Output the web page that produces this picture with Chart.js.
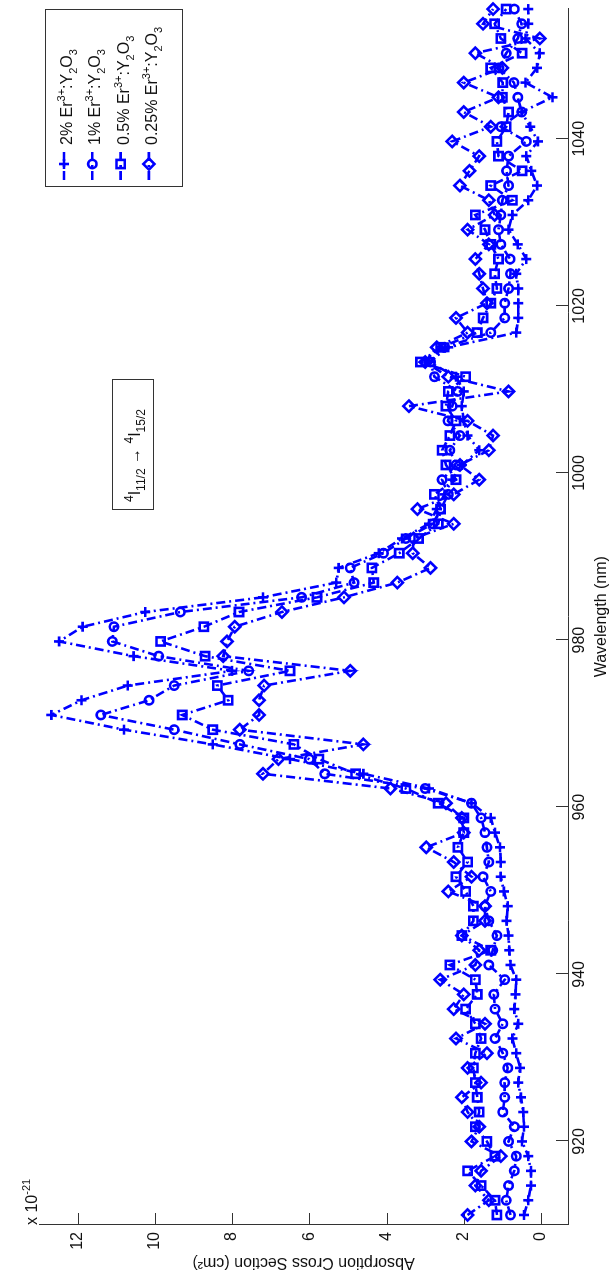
<!DOCTYPE html>
<html>
<head>
<meta charset="utf-8">
<title>Er:Y2O3 absorption cross section</title>
<script src="https://cdn.jsdelivr.net/npm/chart.js@4.4.0/dist/chart.umd.min.js"></script>
<style>
html, body { margin: 0; padding: 0; background: #fff; overflow: hidden; }
/* the figure is drawn landscape and turned a quarter turn to the left */
#wrap { position: absolute; left: 0; top: 0; width: 1281px; height: 613px;
        transform-origin: 0 0; transform: translate(0, 1281px) rotate(-90deg); }
</style>
</head>
<body>
<div id="wrap"><canvas id="chart" width="1281" height="613"></canvas></div>
<script>
var wavelength = [911.2, 912.96, 914.72, 916.48, 918.24, 920.0, 921.76, 923.52, 925.28, 927.04,
    928.8, 930.56, 932.32, 934.08, 935.84, 937.6, 939.36, 941.12, 942.88, 944.64,
    946.4, 948.16, 949.92, 951.68, 953.44, 955.2, 956.96, 958.72, 960.48, 962.24,
    964.0, 965.76, 967.52, 969.28, 971.04, 972.8, 974.56, 976.32, 978.08, 979.84,
    981.6, 983.36, 985.12, 986.88, 988.64, 990.4, 992.16, 993.92, 995.68, 997.44,
    999.2, 1000.96, 1002.72, 1004.48, 1006.24, 1008.0, 1009.76, 1011.52, 1013.28, 1015.04,
    1016.8, 1018.56, 1020.32, 1022.08, 1023.84, 1025.6, 1027.36, 1029.12, 1030.88, 1032.64,
    1034.4, 1036.16, 1037.92, 1039.68, 1041.44, 1043.2, 1044.96, 1046.72, 1048.48, 1050.24,
    1052.0, 1053.76, 1055.52];

// cross section in units of 1e-21 cm^2
var er2 = [0.44, 0.33, 0.26, 0.26, 0.33, 0.49, 0.44, 0.46, 0.52, 0.59, 0.54, 0.64, 0.74, 0.59, 0.69, 0.66, 0.64,
    0.79, 0.82, 0.84, 0.89, 0.86, 0.96, 1.04, 1.04, 1.06, 1.19, 1.3, 1.8,
    2.9, 4.6, 6.5, 8.5, 10.8, 12.68, 11.9, 10.7, 8.0, 10.55, 12.48, 11.87, 10.25, 7.2, 5.3, 5.24, 4.2, 3.6, 2.9, 2.7, 2.5,
    2.3, 2.05, 1.6, 1.9, 2.0, 2.05, 2.0, 2.2, 2.9, 2.4, 0.64, 0.59, 0.59, 0.59, 0.64, 0.38, 0.6,
    0.84, 0.74, 0.33, 0.1, 0.25, 0.38, 0.08, 0.28, 0.5, -0.3, 0.4, 0.1, 0.03, 0.4, 0.33, 0.33];
var er1 = [0.79, 0.9, 0.84, 0.69, 0.64, 0.84, 0.69, 0.99, 0.94, 0.94, 0.86, 0.99, 1.19, 0.99, 1.19, 1.22, 0.94,
    1.35, 1.25, 1.14, 1.35, 1.45, 1.3, 1.5, 1.35, 1.4, 1.45, 1.55, 1.8,
    3.0, 5.6, 6.0, 7.8, 9.5, 11.4, 10.15, 9.5, 7.57, 9.9, 11.1, 11.06, 9.34, 6.2, 4.84, 4.94, 4.08, 3.5, 2.8, 2.6, 2.4,
    2.56, 2.2, 2.36, 2.1, 2.41, 2.3, 2.16, 2.76, 2.86, 2.5, 1.3, 0.94, 0.94, 0.84, 0.79, 0.8, 1.04,
    1.1, 1.04, 1.0, 0.84, 0.89, 0.84, 0.38, 1.04, 0.5, 0.6, 0.7, 1.09, 0.9, 0.6, 0.5, 0.69];
var er05 = [1.14, 1.19, 1.55, 1.9, 1.19, 1.4, 1.7, 1.6, 1.65, 1.7, 1.75, 1.7, 1.55, 1.7, 1.95, 1.65, 1.7,
    2.36, 1.3, 2.05, 1.75, 1.75, 1.95, 2.2, 1.9, 2.15, 2.0, 2.0, 2.66,
    3.5, 4.8, 5.75, 6.4, 8.5, 9.29, 8.1, 8.38, 6.5, 8.7, 9.85, 8.73, 7.82, 5.8, 4.33, 4.38, 3.67, 3.17, 2.66, 2.6, 2.76,
    2.2, 2.46, 2.56, 2.36, 2.2, 2.46, 2.4, 1.95, 3.12, 2.6, 1.65, 1.5, 1.3, 1.14, 1.2, 1.1, 1.3,
    1.45, 1.7, 0.74, 1.3, 0.49, 1.1, 1.14, 0.9, 0.84, 1.0, 0.99, 1.3, 0.49, 1.04, 1.2, 0.9];
var er025 = [1.9, 1.35, 1.7, 1.55, 1.04, 1.8, 1.6, 1.9, 2.05, 1.55, 1.9, 1.4, 2.2, 1.45, 2.26, 2.0, 2.61,
    1.7, 1.6, 2.05, 1.45, 1.45, 2.4, 1.8, 2.26, 2.97, 2.0, 2.05, 2.46,
    3.9, 7.2, 6.8, 4.6, 7.8, 7.3, 7.3, 7.17, 4.94, 8.23, 8.13, 7.93, 6.71, 5.1, 3.72, 2.86, 3.32, 3.3, 2.26, 3.2, 2.26,
    1.6, 2.1, 1.35, 1.24, 1.9, 3.42, 0.84, 2.4, 3.0, 2.7, 1.9, 2.2, 1.4, 1.5, 1.6, 1.7, 1.35,
    1.9, 1.2, 1.35, 2.1, 1.85, 1.6, 2.3, 1.3, 2.0, 1.1, 2.0, 1.0, 1.7, 0.03, 1.5, 1.24];

var seriesNames = ['2%', '1%', '0.5%', '0.25%'];
var seriesMarkers = ['cross', 'circle', 'rect', 'rectRot'];
var xTicks = [920, 940, 960, 980, 1000, 1020, 1040];
var yTicks = [0, 2, 4, 6, 8, 10, 12];

var BLUE = 'rgb(0,0,255)';
var AXIS = '#333';
var TEXT = '#111';
var DASH = [9, 4, 2, 4];
var LW = 2.6;
var FONT = "'Liberation Sans', Arial, sans-serif";
var markerSize = { cross: 5, circle: 4.2, rect: 5.8, rectRot: 5.6 };

function toPoints(arr) {
    return arr.map(function (v, i) { return { x: wavelength[i], y: v }; });
}

var datasets = [er2, er1, er05, er025].map(function (arr, i) {
    var m = seriesMarkers[i];
    return {
        label: seriesNames[i],
        data: toPoints(arr),
        borderColor: BLUE,
        borderWidth: LW,
        borderDash: DASH,
        pointStyle: m,
        pointRadius: markerSize[m],
        pointBorderWidth: LW,
        pointBorderColor: BLUE,
        pointBackgroundColor: 'rgba(0,0,0,0)',
        fill: false,
        tension: 0,
        clip: false,
        order: 4 - i
    };
});

function drawMarker(ctx, style, x, y, r) {
    ctx.beginPath();
    if (style === 'cross') {
        ctx.moveTo(x - r, y); ctx.lineTo(x + r, y);
        ctx.moveTo(x, y - r); ctx.lineTo(x, y + r);
    } else if (style === 'circle') {
        ctx.arc(x, y, r, 0, Math.PI * 2);
    } else if (style === 'rect') {
        var s = r * Math.SQRT1_2;
        ctx.rect(x - s, y - s, 2 * s, 2 * s);
    } else {
        ctx.moveTo(x - r, y); ctx.lineTo(x, y - r); ctx.lineTo(x + r, y); ctx.lineTo(x, y + r);
        ctx.closePath();
    }
    ctx.stroke();
}

// text with tex-like super/subscripts
function drawRich(ctx, parts, x, y, big, small) {
    parts.forEach(function (p) {
        ctx.font = ((p.sup || p.sub) ? small : big) + 'px ' + FONT;
        var dy = p.sup ? -7 : (p.sub ? 5 : 0);
        ctx.fillText(p.t, x, y + dy);
        x += ctx.measureText(p.t).width;
    });
    return x;
}

var decor = {
    id: 'decor',
    beforeDatasetsDraw: function (chart) {
        var ctx = chart.ctx, xs = chart.scales.x, ys = chart.scales.y, a = chart.chartArea;
        ctx.save();
        ctx.strokeStyle = AXIS;
        ctx.lineWidth = 1;
        ctx.beginPath();
        xTicks.forEach(function (t) {
            var px = Math.round(xs.getPixelForValue(t)) + 0.5;
            ctx.moveTo(px, a.bottom); ctx.lineTo(px, a.bottom - 12);
        });
        yTicks.forEach(function (t) {
            var py = Math.round(ys.getPixelForValue(t)) + 0.5;
            ctx.moveTo(a.left, py); ctx.lineTo(a.left + 12, py);
        });
        ctx.stroke();
        ctx.restore();
    },
    afterDraw: function (chart) {
        var ctx = chart.ctx, a = chart.chartArea;
        ctx.save();
        ctx.fillStyle = TEXT;
        ctx.textBaseline = 'alphabetic';
        ctx.textAlign = 'left';

        // exponent label
        drawRich(ctx, [{ t: 'x 10' }, { t: '-21', sup: true }], a.left, a.top - 2, 16, 11);

        // transition label
        ctx.fillStyle = '#fff';
        ctx.fillRect(771, 112, 130, 41);
        ctx.strokeStyle = AXIS;
        ctx.lineWidth = 1;
        ctx.strokeRect(771.5, 112.5, 130, 41);
        ctx.fillStyle = TEXT;
        drawRich(ctx, [{ t: '4', sup: true }, { t: 'I' }, { t: '11/2', sub: true }, { t: ' \u2192 ' },
                       { t: '4', sup: true }, { t: 'I' }, { t: '15/2', sub: true }], 779, 140, 16, 12);

        // legend
        var bx = 1094, by = 45, bw = 177, bh = 137;
        ctx.fillStyle = '#fff';
        ctx.fillRect(bx, by, bw, bh);
        ctx.strokeRect(bx + 0.5, by + 0.5, bw, bh);
        seriesNames.forEach(function (name, i) {
            var base = 72 + i * 28.3;
            var ly = base - 8;
            ctx.strokeStyle = BLUE;
            ctx.lineWidth = LW;
            ctx.setLineDash(DASH);
            ctx.beginPath();
            ctx.moveTo(bx + 7, ly); ctx.lineTo(bx + 39, ly);
            ctx.stroke();
            ctx.setLineDash([]);
            drawMarker(ctx, seriesMarkers[i], bx + 23, ly, markerSize[seriesMarkers[i]]);
            ctx.fillStyle = TEXT;
            drawRich(ctx, [{ t: name + ' Er' }, { t: '3+', sup: true }, { t: ':Y' }, { t: '2', sub: true },
                           { t: 'O' }, { t: '3', sub: true }], bx + 42, base, 16, 11);
        });
        ctx.restore();
    }
};

var chart = new Chart(document.getElementById('chart'), {
    type: 'line',
    data: { datasets: datasets },
    options: {
        responsive: false,
        animation: false,
        devicePixelRatio: 1,
        layout: { padding: { top: 39, right: 8, left: 0, bottom: 0 } },
        plugins: { legend: { display: false }, tooltip: { enabled: false } },
        scales: {
            x: {
                type: 'linear', min: 910, max: 1055.6,
                grid: { display: false, drawTicks: false },
                border: { display: true, color: AXIS, width: 1 },
                ticks: { font: { family: FONT, size: 16 }, color: TEXT, padding: 2, maxRotation: 0,
                         callback: function (v) { return String(v); } },
                afterBuildTicks: function (s) { s.ticks = xTicks.map(function (v) { return { value: v }; }); },
                afterFit: function (s) { s.height = 45; },
                title: { display: true, text: 'Wavelength (nm)', color: TEXT,
                         font: { family: FONT, size: 16 }, padding: { top: 0, bottom: 2 } }
            },
            y: {
                type: 'linear', min: -0.7, max: 13,
                grid: { display: false, drawTicks: false },
                border: { display: true, color: AXIS, width: 1 },
                ticks: { font: { family: FONT, size: 16 }, color: TEXT, padding: 7,
                         callback: function (v) { return String(v); } },
                afterBuildTicks: function (s) { s.ticks = yTicks.map(function (v) { return { value: v }; }); },
                afterFit: function (s) { s.width = 56; },
                title: { display: true, text: 'Absorption Cross Section (cm\u00b2)', color: TEXT,
                         font: { family: FONT, size: 16 }, padding: { top: 9, bottom: 0 } }
            }
        }
    },
    plugins: [decor]
});
</script>
</body>
</html>
